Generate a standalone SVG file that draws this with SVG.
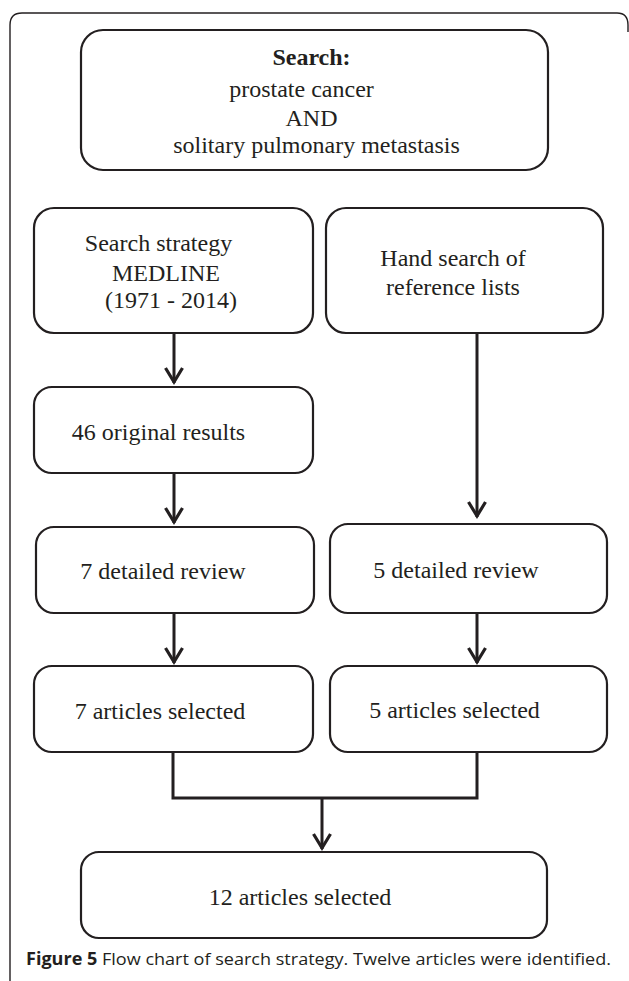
<svg xmlns="http://www.w3.org/2000/svg" width="629" height="981" viewBox="0 0 629 981">
<style>
.box{fill:#ffffff;stroke:#231f20;stroke-width:2.2}
.t{font-family:"Liberation Serif","Times New Roman",serif;font-size:24px;fill:#231f20;text-anchor:middle}
.b{font-weight:bold}
.c{fill:none;stroke:#231f20;stroke-width:3}
.cap{font-family:"Open Sans","Noto Sans","Liberation Sans",sans-serif;font-size:17px;fill:#231f20}
</style>
<defs>
<marker id="arr" markerUnits="userSpaceOnUse" markerWidth="30" markerHeight="30" viewBox="-20 -15 30 30" refX="0" refY="0" orient="auto" overflow="visible">
<path d="M-15,-8.5 L-1,0 L-15,8.5" fill="none" stroke="#231f20" stroke-width="3.2" stroke-linejoin="miter"/>
</marker>
</defs>
<rect width="629" height="981" fill="#ffffff"/>
<path id="frame" d="M10,981 V25 Q10,13 22,13 H617 Q628,13 628,25 V32" fill="none" stroke="#231f20" stroke-width="1.4"/>
<g id="connectors">
<line class="c" x1="174" y1="333" x2="174" y2="383" marker-end="url(#arr)"/>
<line class="c" x1="174" y1="473" x2="174" y2="523" marker-end="url(#arr)"/>
<line class="c" x1="174" y1="613" x2="174" y2="663" marker-end="url(#arr)"/>
<line class="c" x1="477" y1="333" x2="477" y2="517" marker-end="url(#arr)"/>
<line class="c" x1="477" y1="613" x2="477" y2="663" marker-end="url(#arr)"/>
<polyline class="c" points="173,752 173,798 477,798 477,752"/>
<line class="c" x1="322" y1="798" x2="322" y2="849" marker-end="url(#arr)"/>
</g>
<g id="search">
<rect class="box" x="81" y="30" width="467" height="140" rx="22"/>
<text class="t b" x="311.5" y="65">Search:</text>
<text class="t" x="301.5" y="97">prostate cancer</text>
<text class="t" x="311.5" y="126">AND</text>
<text class="t" x="316.5" y="153">solitary pulmonary metastasis</text>
</g>
<g id="medline">
<rect class="box" x="34" y="208" width="279" height="125" rx="20"/>
<text class="t" x="158.5" y="251">Search strategy</text>
<text class="t" x="166" y="281">MEDLINE</text>
<text class="t" x="171" y="308">(1971 - 2014)</text>
</g>
<g id="hand">
<rect class="box" x="326" y="208" width="277" height="125" rx="20"/>
<text class="t" x="453" y="266">Hand search of</text>
<text class="t" x="453" y="295">reference lists</text>
</g>
<g id="original">
<rect class="box" x="34" y="387" width="279" height="86" rx="18"/>
<text class="t" x="158.5" y="440">46 original results</text>
</g>
<g id="review7">
<rect class="box" x="36" y="527" width="278" height="86" rx="18"/>
<text class="t" x="163" y="579">7 detailed review</text>
</g>
<g id="review5">
<rect class="box" x="330" y="524" width="277" height="89" rx="18"/>
<text class="t" x="456" y="578">5 detailed review</text>
</g>
<g id="selected7">
<rect class="box" x="34" y="666" width="279" height="86" rx="18"/>
<text class="t" x="160" y="719">7 articles selected</text>
</g>
<g id="selected5">
<rect class="box" x="330" y="666" width="277" height="86" rx="18"/>
<text class="t" x="454.5" y="718">5 articles selected</text>
</g>
<g id="selected12">
<rect class="box" x="81" y="852" width="466" height="86" rx="18"/>
<text class="t" x="300" y="905">12 articles selected</text>
</g>
<text id="caption" class="cap" x="26" y="965" textLength="585" lengthAdjust="spacingAndGlyphs"><tspan font-weight="bold">Figure 5</tspan> Flow chart of search strategy. Twelve articles were identified.</text>
</svg>
